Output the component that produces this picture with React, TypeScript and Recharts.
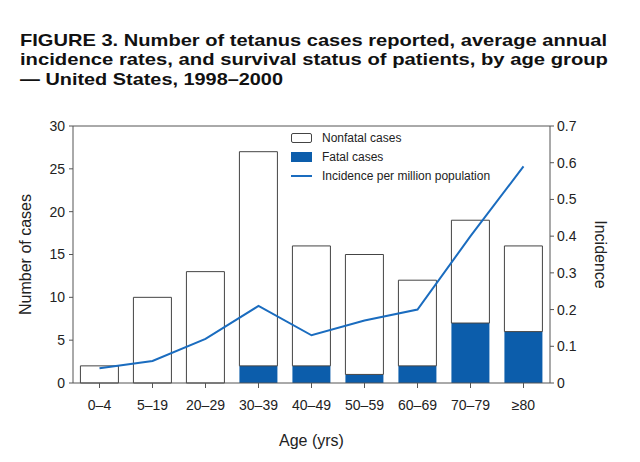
import React from 'react';
import {
  ComposedChart,
  Bar,
  Line,
  XAxis,
  YAxis,
  Legend,
  ReferenceLine,
} from 'recharts';

const ageGroups = ['0–4', '5–19', '20–29', '30–39', '40–49', '50–59', '60–69', '70–79', '≥80'];
const fatalCases = [0, 0, 0, 2, 2, 1, 2, 7, 6];
const nonfatalCases = [2, 10, 13, 25, 14, 14, 10, 12, 10];
const incidence = [0.04, 0.06, 0.12, 0.21, 0.13, 0.17, 0.2, 0.4, 0.59];

const caseTicks = [0, 5, 10, 15, 20, 25, 30];
const incidenceTicks = [0, 0.1, 0.2, 0.3, 0.4, 0.5, 0.6, 0.7];

const titleLines = [
  { text: 'FIGURE 3.  Number of tetanus cases reported, average annual', width: 587 },
  { text: 'incidence rates, and survival status of patients, by age group', width: 588 },
  { text: '— United States, 1998–2000', width: 263 },
];

const BLUE = '#0c5dab';
const LINE_BLUE = '#1a6cbf';
const AXIS = '#555';
const FONT = '"Liberation Sans", Arial, Helvetica, sans-serif';

const chartData = ageGroups.map((age, i) => ({
  age,
  fatal: fatalCases[i],
  nonfatal: nonfatalCases[i],
  incidence: incidence[i],
}));

function LegendBox() {
  const rows = [
    { label: 'Nonfatal cases', kind: 'open' },
    { label: 'Fatal cases', kind: 'fill' },
    { label: 'Incidence per million population', kind: 'line' },
  ];
  return (
    <div style={{ fontFamily: FONT, fontSize: 12, color: '#222' }}>
      {rows.map((r) => (
        <div key={r.label} style={{ display: 'flex', alignItems: 'center', height: 19 }}>
          <svg width={22} height={12} style={{ marginRight: 9 }}>
            {r.kind === 'open' && (
              <rect x={0.5} y={1.5} width={20} height={9} rx={1.5} fill="#fff" stroke="#444" />
            )}
            {r.kind === 'fill' && <rect x={0} y={1} width={21} height={10} fill={BLUE} />}
            {r.kind === 'line' && <line x1={0} x2={21} y1={6} y2={6} stroke={LINE_BLUE} strokeWidth={2} />}
          </svg>
          <span>{r.label}</span>
        </div>
      ))}
    </div>
  );
}

export default function App() {
  return (
    <div style={{ position: 'absolute', left: 0, top: 0, width: 640, height: 462, background: '#fff' }}>
      <svg width={640} height={100} style={{ position: 'absolute', left: 0, top: 0 }}>
        {titleLines.map((l, i) => (
          <text
            key={i}
            x={20}
            y={46 + i * 19.3}
            textLength={l.width}
            lengthAdjust="spacingAndGlyphs"
            style={{ fontFamily: FONT, fontWeight: 700, fontSize: 17, fill: '#111' }}
          >
            {l.text}
          </text>
        ))}
      </svg>
      <div style={{ position: 'absolute', left: 0, top: 0 }}>
        <ComposedChart
          width={640}
          height={462}
          data={chartData}
          margin={{ top: 126, right: 30, bottom: 14, left: 17 }}
          barCategoryGap="14%"
          style={{ fontFamily: FONT }}
        >
          <XAxis
            dataKey="age"
            height={65}
            tickSize={5}
            tickMargin={12}
            stroke={AXIS}
            tick={{ fontSize: 14, fill: '#222' }}
            interval={0}
            label={{ value: 'Age (yrs)', position: 'insideBottom', offset: 2, style: { fontSize: 16, fill: '#222' } }}
          />
          <YAxis
            yAxisId="left"
            width={56}
            domain={[0, 30]}
            ticks={caseTicks}
            tickSize={4}
            tickMargin={4}
            stroke={AXIS}
            tick={{ fontSize: 14, fill: '#222' }}
            label={{
              value: 'Number of cases',
              angle: -90,
              position: 'insideLeft',
              offset: 8,
              style: { fontSize: 16, fill: '#222', textAnchor: 'middle' },
            }}
          />
          <YAxis
            yAxisId="right"
            orientation="right"
            width={60}
            domain={[0, 0.7]}
            ticks={incidenceTicks}
            tickSize={4}
            tickMargin={3}
            stroke={AXIS}
            tick={{ fontSize: 14, fill: '#222' }}
            tickFormatter={(v: number) => (v === 0 ? '0' : v.toFixed(1))}
            label={{
              value: 'Incidence',
              angle: 90,
              position: 'insideRight',
              offset: 9,
              style: { fontSize: 16, fill: '#222', textAnchor: 'middle' },
            }}
          />
          <ReferenceLine yAxisId="left" y={30} stroke={AXIS} ifOverflow="visible" />
          <Legend
            layout="vertical"
            align="center"
            verticalAlign="middle"
            wrapperStyle={{ position: 'absolute', left: 291, top: 128, width: 230 }}
            content={() => <LegendBox />}
          />
          <Bar yAxisId="left" dataKey="fatal" stackId="a" fill={BLUE} isAnimationActive={false} />
          <Bar
            yAxisId="left"
            dataKey="nonfatal"
            stackId="a"
            fill="#fff"
            stroke="#444"
            strokeWidth={1}
            isAnimationActive={false}
          />
          <Line
            yAxisId="right"
            type="linear"
            dataKey="incidence"
            stroke={LINE_BLUE}
            strokeWidth={2}
            dot={false}
            isAnimationActive={false}
          />
        </ComposedChart>
      </div>
    </div>
  );
}
